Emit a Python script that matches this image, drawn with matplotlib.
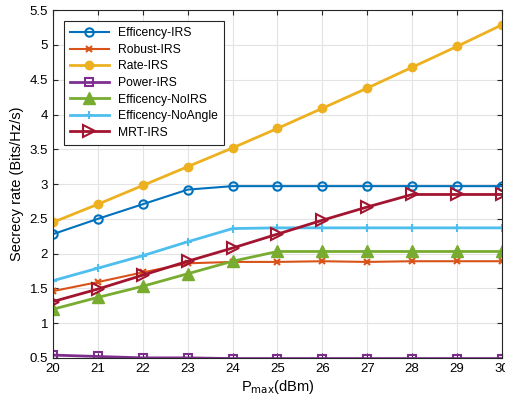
import matplotlib.pyplot as plt

plt.rcParams['font.family'] = ['Liberation Sans', 'DejaVu Sans']

p_max = [20, 21, 22, 23, 24, 25, 26, 27, 28, 29, 30]
eff_irs = [2.28, 2.50, 2.71, 2.92, 2.97, 2.97, 2.97, 2.97, 2.97, 2.97, 2.97]
robust_irs = [1.46, 1.59, 1.73, 1.86, 1.88, 1.88, 1.89, 1.88, 1.89, 1.89, 1.89]
rate_irs = [2.45, 2.71, 2.98, 3.25, 3.52, 3.80, 4.09, 4.38, 4.68, 4.98, 5.29]
power_irs = [0.54, 0.52, 0.50, 0.50, 0.49, 0.49, 0.49, 0.49, 0.49, 0.49, 0.49]
eff_noirs = [1.20, 1.37, 1.53, 1.71, 1.89, 2.03, 2.03, 2.03, 2.03, 2.03, 2.03]
eff_noangle = [1.61, 1.79, 1.97, 2.17, 2.36, 2.37, 2.37, 2.37, 2.37, 2.37, 2.37]
mrt_irs = [1.31, 1.49, 1.69, 1.89, 2.08, 2.28, 2.48, 2.67, 2.85, 2.85, 2.85]

fig, ax = plt.subplots(figsize=(5.05, 4.09), dpi=100)
fig.subplots_adjust(left=0.105, right=0.994, top=0.975, bottom=0.125)

ax.plot(p_max, eff_irs, color='#0072BD', marker='o', ms=6, mfc='none', mew=1.5, lw=1.5, label='Efficency-IRS')
ax.plot(p_max, robust_irs, color='#D95319', marker='x', ms=5, mew=1.5, lw=1.5, label='Robust-IRS')
ax.plot(p_max, rate_irs, color='#EDB120', marker='o', ms=6, lw=2, label='Rate-IRS')
ax.plot(p_max, power_irs, color='#7E2F8E', marker='s', ms=6, mfc='none', mew=1.5, lw=2, label='Power-IRS')
ax.plot(p_max, eff_noirs, color='#77AC30', marker='^', ms=8, lw=2, label='Efficency-NoIRS')
ax.plot(p_max, eff_noangle, color='#4DBEEE', marker='+', ms=6, mew=1.5, lw=2, label='Efficency-NoAngle')
ax.plot(p_max, mrt_irs, color='#A2142F', marker='>', ms=8, mfc='none', mew=1.5, lw=2, label='MRT-IRS')

ax.set_xlim(20, 30)
ax.set_ylim(0.5, 5.5)
ax.set_xticks(p_max)
ax.set_yticks([0.5, 1, 1.5, 2, 2.5, 3, 3.5, 4, 4.5, 5, 5.5])
ax.set_yticklabels(['0.5', '1', '1.5', '2', '2.5', '3', '3.5', '4', '4.5', '5', '5.5'])
ax.tick_params(direction='in', top=True, right=True, labelsize=9.5, color='#262626')
ax.grid(True, color='#e3e3e3', lw=0.8)
ax.set_axisbelow(True)
for s in ax.spines.values():
    s.set_color('#262626')
    s.set_linewidth(0.8)

ax.set_xlabel(r'P$_{\mathrm{max}}$(dBm)', fontsize=10.5, labelpad=2)
ax.set_ylabel('Secrecy rate (Bits/Hz/s)', fontsize=10.5)

leg = ax.legend(loc='upper left', fontsize=8.7, fancybox=False, edgecolor='#262626',
                framealpha=1, borderaxespad=0.9, handlelength=3.2, labelspacing=0.38,
                borderpad=0.5)
leg.get_frame().set_linewidth(0.8)

fig.savefig('out.png')
